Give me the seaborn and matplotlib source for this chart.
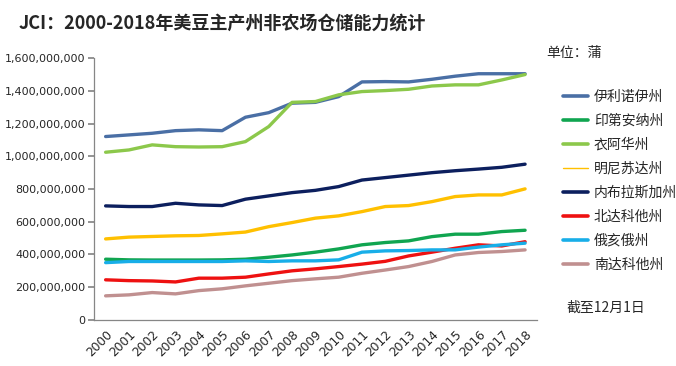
import matplotlib
matplotlib.use("Agg")
import matplotlib.pyplot as plt
from matplotlib.lines import Line2D
import seaborn as sns
import pandas as pd

years = [str(y) for y in range(2000, 2019)]

illinois = [1121, 1131, 1141, 1157, 1162, 1157, 1239, 1267, 1325, 1330, 1365, 1455, 1457, 1455, 1471, 1490, 1505, 1505, 1505]
indiana = [371, 367, 366, 366, 366, 367, 371, 383, 397, 414, 434, 459, 473, 483, 509, 524, 524, 540, 548]
iowa = [1025, 1039, 1070, 1059, 1057, 1059, 1090, 1182, 1330, 1335, 1376, 1396, 1402, 1410, 1430, 1437, 1437, 1467, 1500]
minnesota = [495, 506, 510, 514, 516, 526, 537, 570, 595, 622, 636, 662, 693, 699, 723, 754, 764, 764, 801]
nebraska = [697, 693, 693, 713, 703, 699, 738, 758, 778, 792, 815, 855, 870, 885, 900, 912, 922, 933, 952]
north_dakota = [245, 240, 238, 232, 255, 255, 261, 281, 300, 312, 326, 341, 358, 391, 414, 438, 459, 452, 478]
ohio = [350, 357, 357, 357, 357, 357, 361, 357, 361, 361, 367, 414, 422, 424, 428, 428, 445, 459, 469]
south_dakota = [147, 153, 167, 159, 179, 190, 208, 224, 240, 251, 261, 285, 305, 326, 357, 397, 412, 418, 428]

states = ["伊利诺伊州", "印第安纳州", "衣阿华州", "明尼苏达州", "内布拉斯加州", "北达科他州", "俄亥俄州", "南达科他州"]
series = [illinois, indiana, iowa, minnesota, nebraska, north_dakota, ohio, south_dakota]
colors = ["#4A6FA5", "#10A550", "#8CC84B", "#FFC000", "#0C1F5E", "#EE1111", "#18AEE8", "#C09090"]

rows = []
for st, vals in zip(states, series):
    for i, v in enumerate(vals):
        rows.append({"idx": i, "value": v * 1e6, "state": st})
df = pd.DataFrame(rows)

sns.set_theme(style="white")
plt.rcParams["font.family"] = ["Noto Sans CJK SC", "DejaVu Sans"]

fig = plt.figure(figsize=(6.76, 3.66), dpi=100)
ax = fig.add_axes([0.139, 0.126, 0.655, 0.715])

sns.lineplot(data=df, x="idx", y="value", hue="state", palette=dict(zip(states, colors)),
             hue_order=states, linewidth=2.4, ax=ax, legend=False)

ax.set_xlim(-0.5, 18.5)
ax.set_ylim(0, 1.6e9)
ax.set_yticks([i * 2e8 for i in range(9)])
ax.set_yticklabels(["0"] + [f"{int(i*2e8):,}" for i in range(1, 9)],
                   fontsize=8, family="DejaVu Sans")
ax.set_xticks(range(19))
ax.set_xticklabels(years, rotation=45, ha="right", rotation_mode="anchor",
                   fontsize=8.8, family="DejaVu Sans")
ax.set_xticks([i - 0.5 for i in range(20)], minor=True)
ax.tick_params(axis="x", which="major", length=0, pad=6)
ax.tick_params(axis="x", which="minor", length=4, color="#868686", direction="out")
ax.tick_params(axis="y", which="major", length=4, color="#868686", direction="out", left=True, pad=2)
ax.set_xlabel("")
ax.set_ylabel("")
for s in ["top", "right"]:
    ax.spines[s].set_visible(False)
for s in ["left", "bottom"]:
    ax.spines[s].set_color("#868686")
    ax.spines[s].set_linewidth(0.9)
ax.grid(False)

fig.text(0.027, 0.937, "JCI：2000-2018年美豆主产州非农场仓储能力统计", fontsize=13,
         fontweight="bold", va="center", ha="left")
fig.text(0.808, 0.855, "单位：蒲", fontsize=10, va="center", ha="left")
fig.text(0.838, 0.16, "截至12月1日", fontsize=10, va="center", ha="left")

handles = []
for st, c in zip(states, colors):
    lw = 1.0 if st == "明尼苏达州" else 2.6
    handles.append(Line2D([0], [0], color=c, lw=lw, label=st))
fig.legend(handles=handles, loc="upper left", bbox_to_anchor=(0.825, 0.77),
           frameon=False, fontsize=10, handlelength=1.8, handletextpad=0.4,
           labelspacing=0.72, borderaxespad=0)

fig.savefig("out.png", dpi=100)
